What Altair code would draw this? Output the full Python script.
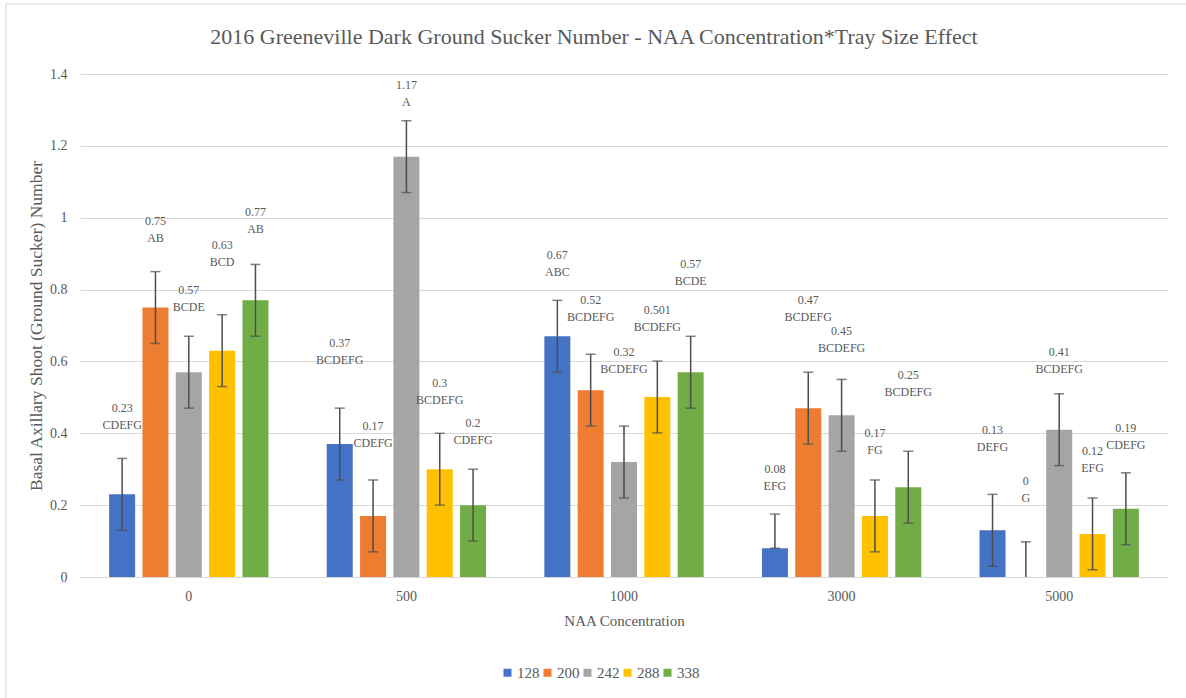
import altair as alt
import pandas as pd

# NAA concentrations (x groups) and transplant tray sizes (series)
conc = ["0", "500", "1000", "3000", "5000"]
trays = ["128", "200", "242", "288", "338"]
colors = ["#4472C4", "#ED7D31", "#A5A5A5", "#FFC000", "#70AD47"]

# mean ground sucker number per tray size, in concentration order
mean_128 = [0.23, 0.37, 0.67, 0.08, 0.13]
mean_200 = [0.75, 0.17, 0.52, 0.47, 0.0]
mean_242 = [0.57, 1.17, 0.32, 0.45, 0.41]
mean_288 = [0.63, 0.30, 0.501, 0.17, 0.12]
mean_338 = [0.77, 0.20, 0.57, 0.25, 0.19]

# mean separation letters
let_128 = ["CDEFG", "BCDEFG", "ABC", "EFG", "DEFG"]
let_200 = ["AB", "CDEFG", "BCDEFG", "BCDEFG", "G"]
let_242 = ["BCDE", "A", "BCDEFG", "BCDEFG", "BCDEFG"]
let_288 = ["BCD", "BCDEFG", "BCDEFG", "FG", "EFG"]
let_338 = ["AB", "CDEFG", "BCDE", "BCDEFG", "CDEFG"]

# error bar extents below / above each mean
minus_128 = [0.1, 0.1, 0.1, 0.0, 0.1]
plus_128 = [0.1, 0.1, 0.1, 0.095, 0.1]
minus_200 = [0.1, 0.1, 0.1, 0.1, 0.0]
plus_200 = [0.1, 0.1, 0.1, 0.1, 0.098]
minus_242 = [0.1, 0.1, 0.1, 0.1, 0.1]
plus_242 = [0.1, 0.1, 0.1, 0.1, 0.1]
minus_288 = [0.1, 0.1, 0.1, 0.1, 0.1]
plus_288 = [0.1, 0.1, 0.1, 0.1, 0.1]
minus_338 = [0.1, 0.1, 0.1, 0.1, 0.1]
plus_338 = [0.1, 0.1, 0.1, 0.1, 0.1]

# height (axis units) at which each two-line data label sits
lab_128 = [0.47, 0.65, 0.895, 0.30, 0.41]
lab_200 = [0.99, 0.42, 0.77, 0.77, 0.268]
lab_242 = [0.80, 1.37, 0.626, 0.686, 0.626]
lab_288 = [0.925, 0.54, 0.743, 0.40, 0.35]
lab_338 = [1.017, 0.43, 0.871, 0.563, 0.414]

y_ticks = [0, 0.2, 0.4, 0.6, 0.8, 1.0, 1.2, 1.4]

series = {
    "128": (mean_128, let_128, minus_128, plus_128, lab_128),
    "200": (mean_200, let_200, minus_200, plus_200, lab_200),
    "242": (mean_242, let_242, minus_242, plus_242, lab_242),
    "288": (mean_288, let_288, minus_288, plus_288, lab_288),
    "338": (mean_338, let_338, minus_338, plus_338, lab_338),
}

rows = []
for tray in trays:
    means, lets, mins, plss, labs = series[tray]
    for i, c in enumerate(conc):
        m = means[i]
        rows.append({
            "conc": c,
            "tray": tray,
            "mean": m,
            "lo": round(m - mins[i], 4),
            "hi": round(m + plss[i], 4),
            "label_at": labs[i],
            "val_txt": f"{m:g}",
            "letters": lets[i],
        })
df = pd.DataFrame(rows)

SERIF = "Liberation Serif"
GREY_TXT = "#595959"
GRID = "#d9d9d9"
ERR = "#4d4d4d"
Y_TITLE = "Basal Axillary Shoot (Ground Sucker) Number"

y_scale = alt.Scale(domain=[0, 1.4], nice=False)
y_axis = alt.Axis(
    values=y_ticks,
    format="~g",
    ticks=False,
    domain=False,
    grid=True,
    gridColor=GRID,
    labelPadding=13,
    labelFontSize=14,
    titleFontSize=17.5,
    titlePadding=4,
)


def yenc(field):
    return alt.Y(field, title=Y_TITLE, scale=y_scale, axis=y_axis)


base = alt.Chart(df).encode(
    x=alt.X(
        "conc:N",
        sort=conc,
        scale=alt.Scale(paddingInner=0.234, paddingOuter=0.117),
        axis=alt.Axis(
            title="NAA Concentration",
            labelAngle=0,
            ticks=False,
            domain=True,
            domainColor=GRID,
            labelPadding=12,
            labelFontSize=14,
            titleFontSize=15,
            titlePadding=10,
        ),
    ),
    xOffset=alt.XOffset(
        "tray:N",
        sort=trays,
        scale=alt.Scale(paddingInner=0.22, paddingOuter=0.11),
    ),
)

bars = base.mark_bar().encode(
    y=yenc("mean:Q"),
    color=alt.Color(
        "tray:N",
        sort=trays,
        scale=alt.Scale(domain=trays, range=colors),
        legend=alt.Legend(
            orient="none",
            legendX=420,
            legendY=591,
            direction="horizontal",
            columns=5,
            title=None,
            symbolType="square",
            symbolSize=64,
            symbolStrokeWidth=0,
            labelFontSize=15,
            labelOffset=2,
            columnPadding=0,
        ),
    ),
)

err_line = base.mark_rule(color=ERR, strokeWidth=1.5).encode(
    y=yenc("lo:Q"), y2="hi:Q"
)
cap_hi = base.mark_tick(color=ERR, size=10, thickness=1.5).encode(
    y=yenc("hi:Q")
)
cap_lo = base.transform_filter("datum.lo > 0").mark_tick(
    color=ERR, size=10, thickness=1.5
).encode(y=yenc("lo:Q"))

val_text = base.mark_text(
    font=SERIF, fontSize=12, color=GREY_TXT, baseline="middle"
).encode(y=yenc("label_at:Q"), text="val_txt:N")
let_text = base.mark_text(
    font=SERIF, fontSize=12, color=GREY_TXT, baseline="middle", dy=17
).encode(y=yenc("label_at:Q"), text="letters:N")

# thin outline of the chart frame
frame = alt.Chart(pd.DataFrame({"k": [0]})).mark_rect(
    fill=None, stroke=GRID, strokeWidth=1
).encode(
    x=alt.value(-74), x2=alt.value(1140),
    y=alt.value(-70), y2=alt.value(660),
)

chart = alt.layer(
    bars, err_line, cap_hi, cap_lo, val_text, let_text, frame
).properties(
    width=1088,
    height=503,
    autosize=alt.AutoSizeParams(type="none"),
    padding={"left": 80, "top": 74, "right": 18, "bottom": 121},
    title=alt.TitleParams(
        text="2016 Greeneville Dark Ground Sucker Number - NAA Concentration*Tray Size Effect",
        font=SERIF,
        fontSize=22,
        fontWeight="normal",
        color=GREY_TXT,
        anchor="middle",
        frame="group",
        dx=-30,
        dy=71,
        offset=26,
    ),
).configure_view(
    stroke=None
).configure_axis(
    labelFont=SERIF,
    titleFont=SERIF,
    labelColor=GREY_TXT,
    titleColor=GREY_TXT,
    titleFontWeight="normal",
).configure_legend(
    labelFont=SERIF,
    labelColor=GREY_TXT,
)

chart.save("out.html", embed_options={"renderer": "svg", "actions": False})
